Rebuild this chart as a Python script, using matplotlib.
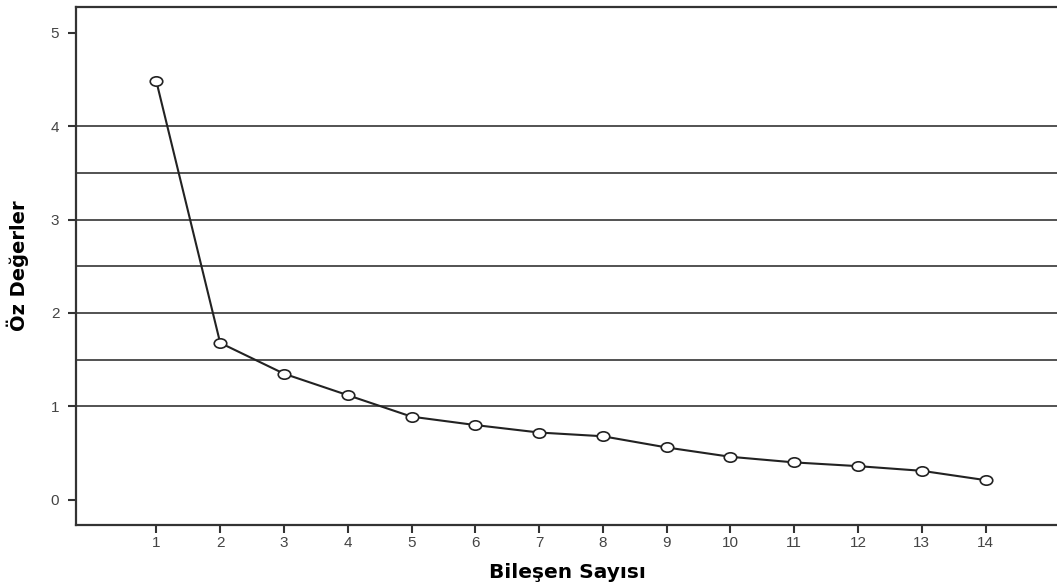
import matplotlib.pyplot as plt
from matplotlib.path import Path
from matplotlib.transforms import Affine2D

components = list(range(1, 15))
eigenvalues = [4.48, 1.68, 1.35, 1.12, 0.89, 0.80, 0.72, 0.68, 0.56, 0.46, 0.40, 0.36, 0.31, 0.21]
grid_levels = [1, 1.5, 2, 2.5, 3, 3.5, 4]
y_ticks = [0, 1, 2, 3, 4, 5]

plt.rcParams['font.family'] = ['Liberation Sans', 'DejaVu Sans']

# slightly flattened circle, like the stretched original
oval = Path.unit_circle().transformed(Affine2D().scale(1.0, 0.75))

fig = plt.figure(figsize=(10.57, 5.85), dpi=100)
ax = fig.add_axes([0.0719, 0.1026, 0.93, 0.886])

for g in grid_levels:
    ax.axhline(g, color='#444444', lw=1.3, zorder=1)

ax.plot(components, eigenvalues, color='#222222', lw=1.5, marker=oval, ms=9,
        mfc='white', mec='#222222', mew=1.2, zorder=3)

ax.set_xlim(-0.26, 15.15)
ax.set_ylim(-0.27, 5.28)
ax.set_xticks(components)
ax.set_yticks(y_ticks)
ax.tick_params(direction='out', length=6, width=1.5, color='#333333',
               labelsize=11, labelcolor='#444444')
ax.tick_params(axis='x', pad=2)
ax.tick_params(axis='y', pad=6)

for s in ['left', 'bottom', 'top']:
    ax.spines[s].set_linewidth(1.6)
    ax.spines[s].set_color('#333333')
ax.spines['right'].set_visible(False)

ax.set_xlabel('Bileşen Sayısı', fontsize=14.5, fontweight='bold', labelpad=9,
              family='DejaVu Sans')
ax.set_ylabel('Öz Değerler', fontsize=14, fontweight='bold', labelpad=16,
              family='DejaVu Sans')

plt.savefig('out.png', dpi=100)
